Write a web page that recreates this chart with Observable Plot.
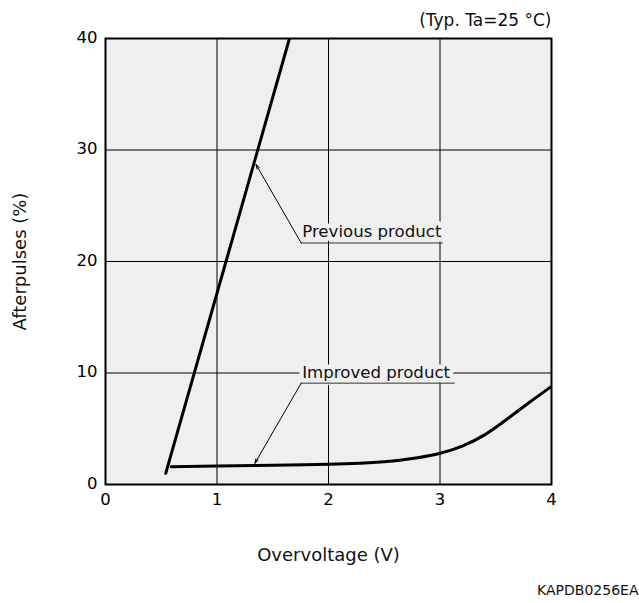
<!DOCTYPE html>
<html>
<head>
<meta charset="utf-8">
<script src="https://cdn.jsdelivr.net/npm/d3@7"></script>
<script src="https://cdn.jsdelivr.net/npm/@observablehq/plot@0.6"></script>
<style>
  html, body { margin: 0; padding: 0; background: #ffffff; }
  #chart svg { display: block; }
</style>
</head>
<body>
<div id="chart"></div>
<script>
// ---- data ----
const xTicks = [0, 1, 2, 3, 4];
const yTicks = [0, 10, 20, 30, 40];

const previousX = [0.54, 1.65];
const previousY = [1.0, 40.0];

const improvedX = [0.59, 1.0, 1.5, 2.0, 2.5, 2.8, 3.0, 3.2, 3.4, 3.6, 3.8, 4.0];
const improvedY = [1.6, 1.65, 1.72, 1.82, 2.05, 2.4, 2.8, 3.45, 4.45, 5.85, 7.35, 8.8];

const annLabels = ["Previous product", "Improved product"];
const annTextX = [1.764, 1.764];
const annTextY = [22.65, 10.0];
const annLineX1 = [1.755, 1.755];
const annLineX2 = [3.03, 3.137];
const annLineY = [21.66, 9.09];
const arrowTipX = [1.35, 1.34];
const arrowTipY = [28.7, 1.9];

const xLabel = "Overvoltage (V)";
const yLabel = "Afterpulses (%)";
const noteLabel = "(Typ. Ta=25 °C)";
const codeLabel = "KAPDB0256EA";

// ---- tables ----
const previous = previousX.map((x, i) => ({x, y: previousY[i]}));
const improved = improvedX.map((x, i) => ({x, y: improvedY[i]}));
const ann = annLabels.map((label, i) => ({
  label, tx: annTextX[i], ty: annTextY[i],
  x1: annLineX1[i], x2: annLineX2[i], ly: annLineY[i],
  ax: arrowTipX[i], ay: arrowTipY[i]
}));

const FONT = "DejaVu Sans";

const chart = Plot.plot({
  width: 639,
  height: 603,
  marginLeft: 105,
  marginRight: 88,
  marginTop: 38,
  marginBottom: 119,
  style: {fontFamily: FONT, background: "#ffffff", color: "#000"},
  x: {domain: [0, 4], ticks: xTicks},
  y: {domain: [0, 40], ticks: yTicks},
  marks: [
    Plot.frame({fill: "#efefef", stroke: "none"}),
    Plot.gridX({ticks: [1, 2, 3], stroke: "#000", strokeOpacity: 1, strokeWidth: 1}),
    Plot.gridY({ticks: [10, 20, 30], stroke: "#000", strokeOpacity: 1, strokeWidth: 1}),
    // text with halo that hides gridlines behind it
    Plot.text(ann, {x: "tx", y: "ty", text: "label", textAnchor: "start", lineAnchor: "middle",
      fontSize: 16.6, fill: "#111", stroke: "#efefef", strokeWidth: 9, strokeLinejoin: "round"}),
    Plot.ruleY(ann, {y: "ly", x1: "x1", x2: "x2", stroke: "#333", strokeWidth: 1}),
    Plot.arrow(ann, {x1: "x1", y1: "ly", x2: "ax", y2: "ay", stroke: "#000", strokeWidth: 1,
      headLength: 7, headAngle: 35}),
    Plot.line(previous, {x: "x", y: "y", stroke: "#000", strokeWidth: 3, clip: true}),
    Plot.line(improved, {x: "x", y: "y", stroke: "#000", strokeWidth: 3, curve: "natural", clip: true}),
    Plot.frame({stroke: "#000", strokeWidth: 2}),
    Plot.axisX({ticks: xTicks, tickSize: 0, tickPadding: 9, fontSize: 16.5, label: null, tickFormat: d => String(d)}),
    Plot.axisY({ticks: yTicks, tickSize: 0, tickPadding: 8, fontSize: 16.5, label: null, dy: -1, tickFormat: d => String(d)}),
    Plot.text([xLabel], {frameAnchor: "bottom", textAnchor: "middle", dy: 71, fontSize: 18, fill: "#111", lineAnchor: "middle"}),
    Plot.text([yLabel], {frameAnchor: "left", textAnchor: "middle", dx: -85, rotate: -90, fontSize: 18, fill: "#111", lineAnchor: "middle"}),
    Plot.text([noteLabel], {frameAnchor: "top-right", textAnchor: "end", dy: -18, fontSize: 17, fill: "#111", lineAnchor: "middle"}),
    Plot.text([codeLabel], {frameAnchor: "bottom-right", textAnchor: "end", dx: 87, dy: 106, fontSize: 14, fill: "#111", lineAnchor: "middle"})
  ]
});
document.getElementById("chart").appendChild(chart);
</script>
</body>
</html>
